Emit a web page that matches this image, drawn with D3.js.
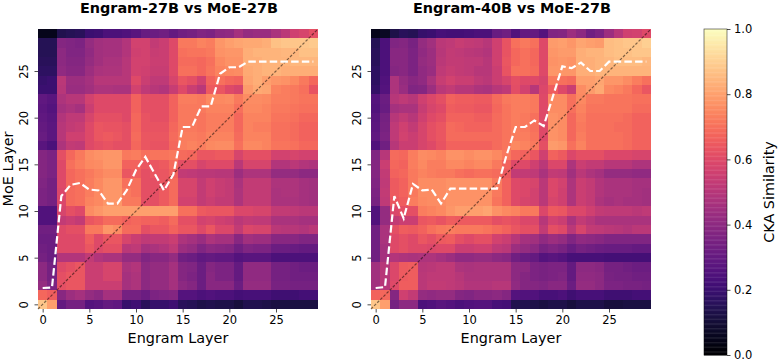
<!DOCTYPE html>
<html><head><meta charset="utf-8">
<script src="https://cdn.jsdelivr.net/npm/d3@7/dist/d3.min.js"></script>
<style>html,body{margin:0;background:#fff}svg{display:block}text{font-family:"DejaVu Sans",sans-serif;fill:#000}</style>
</head><body><svg id="c" width="780" height="362"></svg>
<script>
const layers = d3.range(30);
const tickValues = [0,5,10,15,20,25];
const cbarTicks = [0,0.2,0.4,0.6,0.8,1.0];
const titles = ["Engram-27B vs MoE-27B","Engram-40B vs MoE-27B"];
// CKA x100, rows listed from MoE layer 29 (top) down to layer 0
const cka27 = [
[5,5,14,15,16,20,21,24,24,25,27,31,32,33,30,33,34,37,36,40,41,46,42,43,43,47,51,56,58,62],
[15,15,38,37,36,42,45,46,46,49,57,57,53,55,60,72,72,74,73,78,80,81,82,82,83,87,88,88,88,89],
[15,15,40,37,37,41,45,46,46,49,56,57,54,55,60,70,71,71,72,77,78,78,83,84,84,84,85,85,87,87],
[16,16,40,38,38,42,45,47,47,50,57,57,55,55,60,69,69,68,70,75,77,77,83,83,84,84,84,85,85,85],
[17,17,41,39,39,44,47,48,48,50,57,56,54,54,60,70,70,68,71,74,75,76,82,83,84,84,83,83,83,83],
[19,20,51,44,44,46,50,50,50,50,60,55,52,52,58,64,62,57,67,70,68,67,81,83,80,78,77,75,72,68],
[20,20,50,43,43,45,48,48,47,47,57,52,50,49,54,60,55,51,65,64,60,58,79,82,81,74,73,72,70,63],
[29,27,48,50,50,57,60,60,60,60,67,62,62,62,67,73,73,72,75,75,76,72,76,76,75,73,73,72,71,71],
[28,26,46,48,46,55,60,60,60,60,67,62,62,62,67,72,72,72,74,74,74,70,75,75,74,72,72,71,70,70],
[29,27,49,52,52,58,62,62,62,60,68,63,62,62,67,72,72,71,73,73,73,68,74,74,74,71,71,70,68,68],
[30,28,50,53,54,60,64,63,63,62,68,63,63,63,68,72,72,71,73,73,73,68,74,73,73,70,70,69,67,67],
[31,28,50,56,56,60,64,65,64,62,69,64,64,64,69,73,73,72,74,74,74,69,74,74,74,70,70,69,67,67],
[27,24,48,53,52,60,62,63,62,62,68,64,63,63,68,73,74,73,75,76,76,70,75,75,74,71,71,70,68,68],
[38,36,62,68,72,76,77,78,78,72,73,70,71,71,72,69,68,64,64,65,65,58,62,62,62,57,57,58,57,57],
[38,36,60,70,73,75,76,78,78,67,67,64,64,65,69,62,62,58,60,60,60,51,58,58,58,49,49,51,49,48],
[38,36,60,68,70,72,74,76,76,64,66,62,64,64,67,53,52,51,51,50,50,44,48,48,48,42,42,42,40,40],
[37,34,60,68,70,73,75,78,78,70,70,62,62,64,69,58,58,53,56,54,53,47,53,53,53,48,48,48,46,45],
[36,34,59,69,70,73,75,78,78,72,70,62,62,65,69,58,58,53,56,54,53,48,53,53,53,47,48,48,46,45],
[36,34,59,69,70,74,75,78,78,72,72,62,62,65,69,57,57,53,55,53,53,48,53,53,53,47,47,47,46,45],
[25,25,58,62,60,76,78,80,80,80,80,80,80,80,80,70,70,65,64,64,64,59,59,58,58,53,53,52,51,51],
[25,25,53,55,53,64,66,69,69,67,68,67,67,66,69,62,62,57,58,56,55,51,53,52,52,47,47,47,46,46],
[33,33,60,62,62,72,72,78,76,69,69,62,64,64,67,64,64,60,64,59,59,53,59,58,58,51,50,50,49,51],
[32,32,60,60,60,66,60,64,64,58,55,52,53,53,55,48,46,43,48,46,46,39,45,44,44,39,39,39,37,37],
[33,32,60,60,60,64,60,62,62,51,52,46,47,49,52,44,42,37,40,39,38,33,37,36,36,32,32,31,30,30],
[34,32,49,49,49,53,49,47,47,42,42,37,39,39,42,33,32,29,30,29,29,26,27,27,27,24,24,24,24,24],
[40,34,60,62,64,55,55,58,58,47,49,40,42,42,46,38,37,32,38,36,36,30,41,41,41,34,34,33,32,32],
[40,34,62,64,64,55,55,58,58,46,48,40,42,42,46,38,36,32,39,36,36,30,41,41,41,34,34,33,33,33],
[42,36,62,64,64,55,55,55,55,46,48,40,42,42,46,40,38,32,39,39,39,32,42,42,42,35,35,34,34,34],
[68,66,39,44,46,42,40,46,46,34,34,32,36,37,38,26,26,24,25,24,24,22,23,23,23,21,21,21,22,22],
[88,80,30,34,34,26,27,30,29,19,21,16,19,19,21,16,15,13,14,13,13,11,14,14,13,12,12,12,12,12]
];
const cka40 = [
[5,7,13,16,15,19,20,23,22,22,23,24,24,31,33,25,30,30,26,37,38,44,40,33,36,44,50,56,57,60],
[15,24,37,38,35,42,45,51,52,54,53,52,50,56,63,70,72,70,60,79,80,78,81,80,79,86,87,88,88,90],
[16,24,39,39,36,41,44,50,53,52,51,50,49,56,63,68,70,68,60,78,79,79,83,84,84,86,87,87,88,88],
[16,24,39,39,36,42,44,51,53,53,52,52,50,56,64,68,70,68,60,77,78,77,83,83,84,85,86,86,86,85],
[17,24,38,39,36,41,43,52,54,53,52,50,50,55,63,70,70,69,60,78,78,78,83,83,84,84,84,84,84,84],
[17,25,48,42,39,41,47,54,57,55,55,52,51,55,58,62,60,60,58,72,70,69,80,80,81,78,78,76,73,70],
[18,26,48,43,37,38,44,51,53,50,50,48,47,50,52,61,57,50,59,66,60,55,76,79,82,75,74,72,68,64],
[26,32,50,52,50,56,59,62,67,66,66,65,65,69,72,73,73,72,60,76,76,70,75,72,72,71,71,71,70,70],
[25,31,46,47,47,54,58,60,66,65,65,64,64,68,71,73,73,72,60,76,76,70,74,71,71,71,71,71,69,69],
[27,34,50,53,50,56,60,62,67,67,67,66,66,69,71,73,72,70,60,77,76,68,73,70,70,70,70,69,67,67],
[28,35,52,56,53,58,62,64,69,68,67,67,67,69,71,73,72,70,60,77,76,68,72,70,70,70,69,69,67,67],
[29,36,52,57,55,58,62,64,69,69,69,69,69,69,71,73,73,71,60,77,76,68,73,70,70,70,70,69,67,67],
[25,33,50,55,55,58,60,63,67,67,67,67,67,69,71,75,74,72,62,79,78,70,74,70,70,70,70,69,67,67],
[37,50,69,68,73,76,75,74,77,77,76,77,77,75,72,68,67,64,56,67,65,59,62,62,62,59,59,59,58,58],
[38,55,68,67,73,75,73,73,75,75,74,75,75,72,67,60,60,56,51,59,59,48,55,53,53,50,50,50,48,48],
[38,53,67,68,72,74,73,72,72,70,69,70,70,69,65,53,53,52,47,53,52,45,51,48,46,42,42,42,41,41],
[37,52,65,67,72,76,76,76,77,77,77,77,77,72,67,60,59,58,51,59,57,48,55,53,49,47,47,47,46,46],
[36,53,65,67,72,76,76,76,77,77,77,77,77,72,67,60,59,57,51,59,56,48,55,53,49,47,47,47,46,45],
[35,52,64,66,73,75,76,76,77,77,77,77,77,71,67,60,58,57,51,58,56,48,55,53,48,46,47,46,46,45],
[25,42,59,62,62,73,74,75,78,80,80,80,81,77,75,74,72,72,59,65,64,59,59,56,53,52,52,52,51,52],
[25,42,53,55,55,64,65,63,66,65,65,65,65,62,63,62,59,59,50,57,55,47,53,50,47,47,47,47,47,47],
[33,47,62,66,65,67,70,72,73,72,72,72,71,69,67,64,62,62,53,62,60,51,58,53,52,51,50,49,51,51],
[33,47,60,62,60,64,62,65,66,62,60,62,62,57,55,50,46,45,41,44,42,37,41,40,39,37,37,37,37,37],
[33,46,60,62,60,60,59,60,60,55,55,56,56,52,51,44,42,40,35,37,35,31,34,33,32,31,31,31,30,30],
[33,46,49,48,47,48,48,46,44,41,41,42,42,40,39,33,31,30,26,27,26,23,23,23,23,22,22,22,22,22],
[45,50,59,65,66,50,51,52,52,48,47,48,48,48,48,40,40,36,35,36,36,30,40,40,39,34,34,33,32,32],
[45,50,59,65,66,51,52,52,52,50,48,48,48,48,48,40,38,36,35,36,37,30,41,41,40,35,34,34,33,33],
[45,50,60,66,66,51,53,53,52,51,49,49,49,50,50,41,38,38,37,39,39,32,42,42,40,36,36,35,35,34],
[67,68,38,56,53,42,41,42,42,38,37,39,39,40,38,26,25,25,23,23,24,21,23,23,23,21,21,21,22,22],
[88,80,34,40,40,24,25,27,26,24,25,26,26,23,22,14,14,13,12,13,13,11,13,13,13,11,11,12,12,12]
];
// best matching MoE layer for each Engram layer
const best27 = [1.75,1.8,11.6,12.8,13,12.3,12.2,10.8,10.8,12.2,14.4,15.8,14,12.2,13.9,19,19,21.2,21.2,24.7,25.4,25.4,26,26,26,26,26,26,26,26];
const best40 = [1.75,1.85,11.6,9.2,12.9,12.2,12.3,10.8,12.4,12.4,12.4,12.4,12.4,12.4,15.9,19,19,19.7,19.1,22.3,25.5,25.3,25.9,25,25,26,26,26,26,26];
const panels = [{left:38,matrix:cka27,best:best27,title:titles[0]},{left:371,matrix:cka40,best:best40,title:titles[1]}];

const svg = d3.select("#c");
const size = 280, plotTop = 29;
const color = d3.scaleSequential(d3.interpolateMagma).domain([0,1]);

panels.forEach((p,pi)=>{
  const x = d3.scaleLinear().domain([-0.5,29.5]).range([p.left,p.left+size]);
  const y = d3.scaleLinear().domain([-0.5,29.5]).range([plotTop+size,plotTop]);
  const g = svg.append("g");
  p.matrix.forEach((row,i)=>{
    const layer = 29-i;
    g.append("g").selectAll("rect").data(row).join("rect")
      .attr("x",(d,j)=>x(layers[j]-0.5)).attr("y",y(layer+0.5))
      .attr("width",size/30+0.05).attr("height",size/30+0.05)
      .attr("shape-rendering","crispEdges")
      .attr("fill",d=>color(d/100));
  });
  const pts = [-0.5,29.5];
  g.append("line").attr("x1",x(pts[0])).attr("y1",y(pts[0])).attr("x2",x(pts[1])).attr("y2",y(pts[1]))
    .attr("stroke","#000").attr("stroke-opacity",0.5).attr("stroke-width",1.2).attr("stroke-dasharray","2.8,1.6");
  g.append("path").datum(p.best)
    .attr("d",d3.line().x((d,i)=>x(layers[i])).y(d=>y(d)))
    .attr("fill","none").attr("stroke","#fff").attr("stroke-width",2.2).attr("stroke-dasharray","7.5,3.2");
  const ax = g.append("g").attr("transform",`translate(0,${plotTop+size})`)
    .call(d3.axisBottom(x).tickValues(tickValues).tickSize(3.5).tickPadding(3.5).tickFormat(d3.format("d")));
  const ay = g.append("g").attr("transform",`translate(${p.left},0)`)
    .call(d3.axisLeft(y).tickValues(tickValues).tickSize(3.5).tickPadding(3.5).tickFormat(d3.format("d")));
  [ax,ay].forEach(a=>{
    a.select(".domain").remove();
    a.selectAll("line").attr("stroke","#000").attr("stroke-width",0.7);
    a.selectAll("text").attr("font-size",11.5).attr("font-family",'"DejaVu Sans"').attr("fill","#000");
  });
  ay.selectAll("text").attr("x",0).attr("y",0).attr("dy","0.36em")
    .attr("text-anchor","middle").attr("transform","translate(-14,0) rotate(-90)");
  g.append("text").attr("x",p.left+size/2).attr("y",343).attr("text-anchor","middle").attr("font-size",14.4).text("Engram Layer");
  g.append("text").attr("x",p.left+size/2+1).attr("y",13).attr("text-anchor","middle").attr("font-size",14.4).attr("font-weight","bold").text(p.title);
  if(pi===0) g.append("text").attr("transform",`translate(12.5,${plotTop+size/2}) rotate(-90)`).attr("text-anchor","middle").attr("font-size",14.4).text("MoE Layer");
});

// colour bar
const cbY = d3.scaleLinear().domain([0,1]).range([355,29]);
const levels = d3.range(0,1,1/256);
const cb = svg.append("g");
cb.selectAll("rect").data(levels).join("rect")
  .attr("x",704).attr("width",23)
  .attr("y",d=>cbY(d+1/256)).attr("height",d=>cbY(d)-cbY(d+1/256)+0.4)
  .attr("fill",d=>color(d));
cb.append("rect").attr("x",704).attr("y",29).attr("width",23).attr("height",326)
  .attr("fill","none").attr("stroke","#000").attr("stroke-width",0.7).attr("stroke-opacity",0.7);
const cax = cb.append("g").attr("transform","translate(727,0)")
  .call(d3.axisRight(cbY).tickValues(cbarTicks).tickSize(3.5).tickPadding(3.5).tickFormat(d3.format(".1f")));
cax.select(".domain").remove();
cax.selectAll("line").attr("stroke","#000").attr("stroke-width",0.7);
cax.selectAll("text").attr("font-size",11.5).attr("font-family",'"DejaVu Sans"').attr("fill","#000");
cb.append("text").attr("transform","translate(774,192) rotate(-90)").attr("text-anchor","middle").attr("font-size",14.4).text("CKA Similarity");
</script></body></html>
